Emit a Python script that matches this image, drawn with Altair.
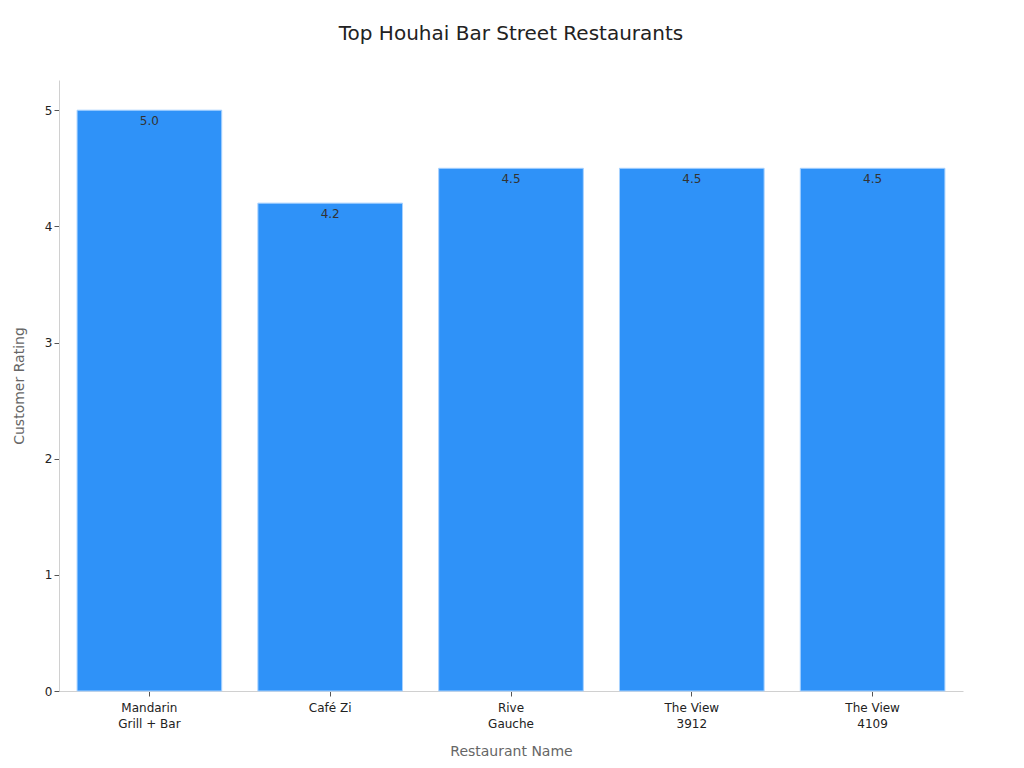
import altair as alt
import pandas as pd

restaurants = ["Mandarin Grill + Bar", "Café Zi", "Rive Gauche", "The View 3912", "The View 4109"]
label_lines = [["Mandarin", "Grill + Bar"], ["Café Zi"], ["Rive", "Gauche"], ["The View", "3912"], ["The View", "4109"]]
ratings = [5.0, 4.2, 4.5, 4.5, 4.5]

df = pd.DataFrame({"Restaurant": restaurants, "Rating": ratings})

def js_list(lines):
    return "[" + ",".join("'" + l + "'" for l in lines) + "]"

label_expr = ""
for name, lines in zip(restaurants, label_lines):
    label_expr += f"datum.value == '{name}' ? {js_list(lines)} : "
label_expr += "datum.value"

FONT = "DejaVu Sans"

x = alt.X(
    "Restaurant:N",
    sort=restaurants,
    title="Restaurant Name",
    scale=alt.Scale(paddingInner=0.2, paddingOuter=0.1),
    axis=alt.Axis(
        labelAngle=0,
        labelExpr=label_expr,
        labelFontSize=12,
        labelColor="#222222",
        labelLineHeight=16,
        labelPadding=6,
        titleFontSize=14,
        titleColor="#666666",
        titleFontWeight="normal",
        titlePadding=15,
        domainColor="#d0d0d0",
        tickColor="#555555",
        tickSize=5,
    ),
)
y = alt.Y(
    "Rating:Q",
    title="Customer Rating",
    scale=alt.Scale(domain=[0, 5.26], nice=False),
    axis=alt.Axis(
        values=[0, 1, 2, 3, 4, 5],
        format="d",
        grid=False,
        labelFontSize=12,
        labelColor="#222222",
        titleFontSize=14,
        titleColor="#666666",
        titleFontWeight="normal",
        titlePadding=18,
        domainColor="#d0d0d0",
        tickColor="#555555",
        tickSize=5,
    ),
)

bars = alt.Chart(df).mark_bar(color="#2f92f8", stroke="#a8d2ff", strokeWidth=1).encode(x=x, y=y)
texts = alt.Chart(df).mark_text(
    baseline="top", dy=6, fontSize=12, color="#333333", font=FONT
).encode(x=x, y=y, text=alt.Text("Rating:Q", format=".1f"))

chart = (
    (bars + texts)
    .properties(
        width=904,
        height=611,
        title=alt.TitleParams("Top Houhai Bar Street Restaurants", fontSize=20, font=FONT,
                              fontWeight="normal", color="#222222", offset=36),
        autosize=alt.AutoSizeParams(type="none"),
        padding={"left": 51, "top": 72, "right": 53, "bottom": 70},
    )
    .configure(font=FONT)
    .configure_view(stroke=None)
)

chart.save("out.html", embed_options={"renderer": "svg", "actions": False})
